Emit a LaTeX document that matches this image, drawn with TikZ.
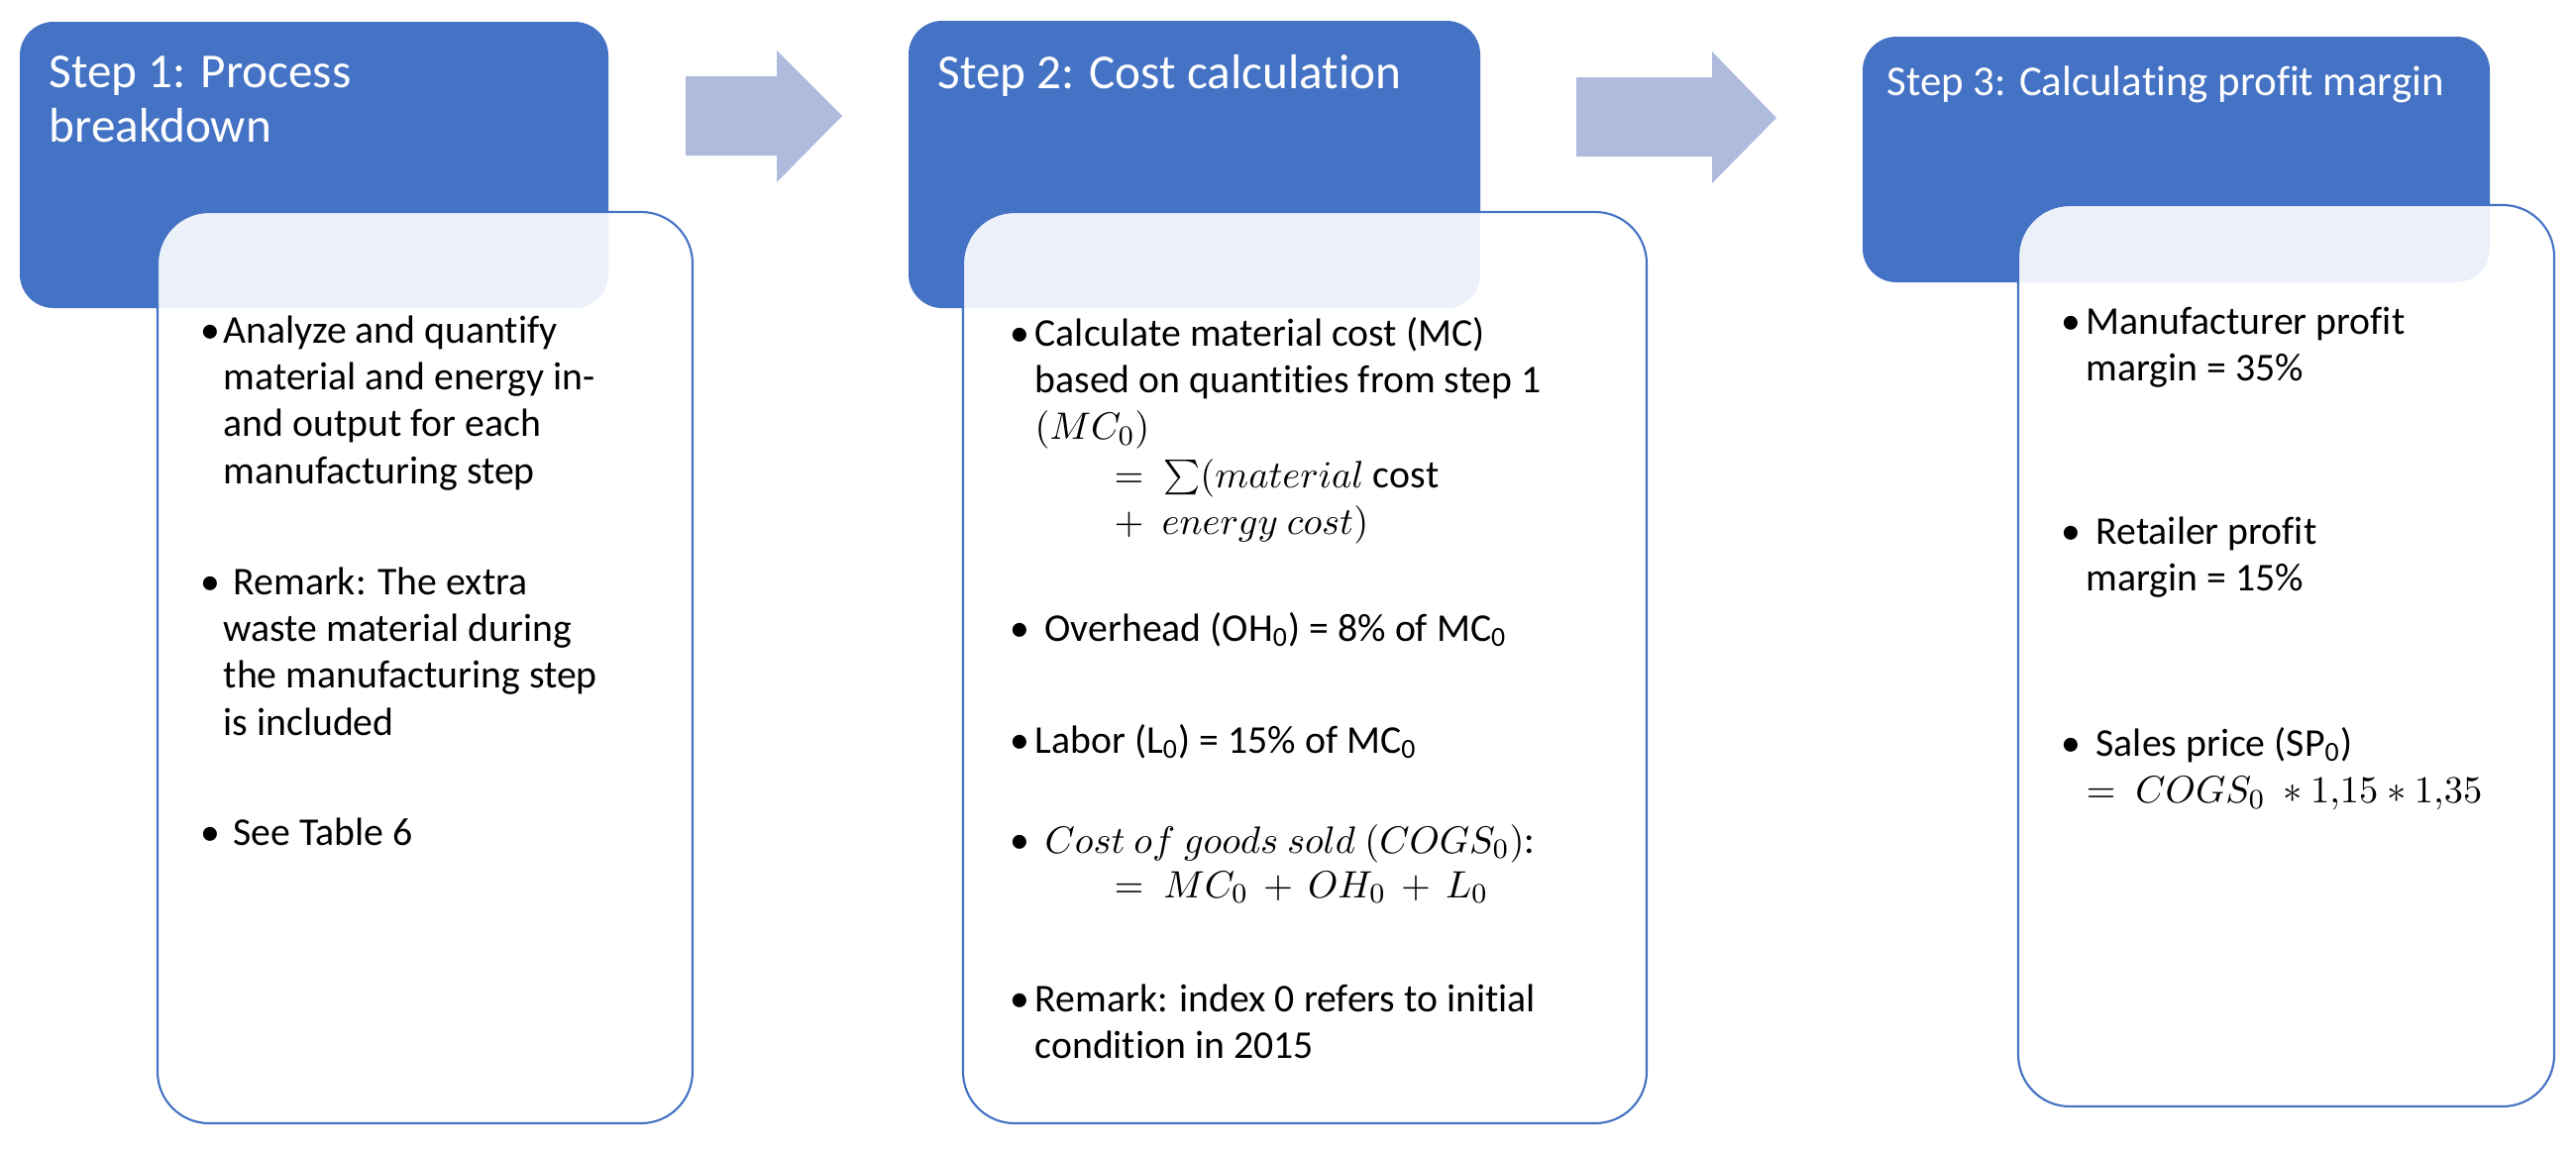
\documentclass[tikz,border=0pt]{standalone}
\usepackage{fontspec}
\setmainfont{Carlito}[Ligatures=NoCommon]
\definecolor{stepblue}{HTML}{4472C4}
\definecolor{arrowblue}{RGB}{174,187,221}
\tikzset{
  stepbox/.style={fill=stepblue, draw=none, rounded corners=3.4mm},
  bodybox/.style={fill=white, fill opacity=0.9, draw=stepblue, line width=0.6pt, rounded corners=5.2mm},
  flowarrow/.style={fill=arrowblue, draw=none},
  titletext/.style={anchor=base west, inner sep=0pt, text=white, font=\fontsize{14}{15.65}\selectfont},
  smalltitle/.style={titletext, font=\fontsize{12.2}{14}\selectfont},
  bodytext/.style={anchor=base west, inner sep=0pt, font=\fontsize{11.3}{13.5}\selectfont},
  bulletdot/.style={anchor=base west, inner sep=0pt, font=\fontsize{11.3}{13.5}\selectfont},
}
\newcommand\lowidx[1]{\textsubscript{#1}}
\newcommand\textlines[1]{\begin{tabular}[t]{@{}l@{}}#1\end{tabular}}
\begin{document}
\begin{tikzpicture}[x=0.01cm,y=-0.01cm]
\useasboundingbox (0,0) rectangle (2600,1160);
\fill[white] (0,0) rectangle (2600,1160);

% arrows
\fill[flowarrow] (692,77) -- (784,77) -- (784,51) -- (850,117) -- (784,184) -- (784,157) -- (692,157) -- cycle;
\fill[flowarrow] (1591,78) -- (1728,78) -- (1728,52) -- (1793,119) -- (1728,185) -- (1728,158) -- (1591,158) -- cycle;

% step 1
\path[stepbox] (20,22) rectangle (614,311);
\path[bodybox] (159,214) rectangle (699,1134);
\node[titletext] (t1) at (49,88) {\textlines{Step 1: Process\\breakdown}};
\node[bulletdot] (b1a) at (202,346) {•};
\node[bodytext] (x1a) at (225,346) {\textlines{Analyze and quantify\\material and energy in-\\and output for each\\manufacturing step}};
\node[bulletdot] (b1b) at (202,600) {•};
\node[bodytext] (x1b) at (225,600) {\textlines{\hspace*{0.25em}Remark: The extra\\waste material during\\the manufacturing step\\is included}};
\node[bulletdot] (b1c) at (202,853) {•};
\node[bodytext] (x1c) at (225,853) {\hspace*{0.25em}See Table 6};

% step 2
\path[stepbox] (917,21) rectangle (1494,311);
\path[bodybox] (972,214) rectangle (1662,1134);
\node[titletext] (t2) at (946,89) {Step 2: Cost calculation};
\node[bulletdot] (b2a) at (1019,349) {•};
\node[bodytext] (x2a) at (1044,349) {\textlines{Calculate material cost (MC)\\based on quantities from step 1\\$(MC_0)$}};
\node[bodytext] (m2a) at (1124,492) {\textlines{$=\ \textstyle\sum(material\ \mathrm{cost}$\\$+\ \ energy\ cost)$}};
\node[bulletdot] (b2b) at (1019,647) {•};
\node[bodytext] (x2b) at (1044,647) {\hspace*{0.25em}Overhead (OH\lowidx{0}) = 8\% of MC\lowidx{0}};
\node[bulletdot] (b2c) at (1019,760) {•};
\node[bodytext] (x2c) at (1044,760) {Labor (L\lowidx{0}) = 15\% of MC\lowidx{0}};
\node[bulletdot] (b2d) at (1019,861) {•};
\node[bodytext] (x2d) at (1044,861) {\hspace*{0.25em}$Cost\ of\ goods\ sold\ (COGS_0)$:};
\node[bodytext] (m2d) at (1124,906) {$=\ MC_0\,+\,OH_0\,+\,L_0$};
\node[bulletdot] (b2e) at (1019,1021) {•};
\node[bodytext] (x2e) at (1044,1021) {\textlines{Remark: index 0 refers to initial\\condition in 2015}};

% step 3
\path[stepbox] (1880,37) rectangle (2513,285);
\path[bodybox] (2037,207) rectangle (2578,1117);
\node[smalltitle] (t3) at (1904,96) {Step 3: Calculating profit margin};
\node[bulletdot] (b3a) at (2080,337) {•};
\node[bodytext] (x3a) at (2105,337) {\textlines{Manufacturer profit\\margin = 35\%}};
\node[bulletdot] (b3b) at (2080,549) {•};
\node[bodytext] (x3b) at (2105,549) {\textlines{\hspace*{0.25em}Retailer profit\\margin = 15\%}};
\node[bulletdot] (b3c) at (2080,763) {•};
\node[bodytext] (x3c) at (2105,763) {\textlines{\hspace*{0.25em}Sales price (SP\lowidx{0})\\$=\ COGS_0\ \ast 1{,}15\ast 1{,}35$}};
\end{tikzpicture}
\end{document}
